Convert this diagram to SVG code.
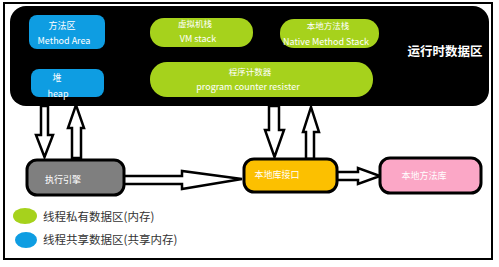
<svg xmlns="http://www.w3.org/2000/svg" width="499" height="267" viewBox="0 0 499 267">
<style>
.t{font-family:"Noto Sans CJK SC","Liberation Sans",sans-serif;fill:#fff;text-anchor:middle}
.s{font-size:8.5px}
.m{font-size:9px}
.node{stroke:#000;stroke-width:3}
.arr{fill:#fff;stroke:#000;stroke-width:2.5;stroke-linejoin:miter}
.leg{font-family:"Noto Sans CJK SC","Liberation Sans",sans-serif;font-size:11.5px;fill:#333}
</style>
<rect x="0" y="0" width="499" height="267" fill="#fff"/>
<rect x="4" y="3" width="488" height="256" fill="none" stroke="#000" stroke-width="2"/>
<g id="runtime">
<rect x="10" y="6" width="479" height="100" rx="16" fill="#000"/>
<text class="t" x="445" y="56" style="font-size:12.5px;font-weight:bold">运行时数据区</text>
</g>
<g id="method-area">
<rect x="29" y="15" width="76" height="34" rx="8" fill="#0e9de2"/>
<text class="t m" x="62" y="29">方法区</text>
<text class="t m" x="64" y="44">Method Area</text>
</g>
<g id="heap">
<rect x="31" y="69" width="73" height="28" rx="8" fill="#0e9de2"/>
<text class="t m" x="57" y="81">堆</text>
<text class="t m" x="58" y="97">heap</text>
</g>
<g id="vm-stack">
<rect x="150" y="18" width="103" height="29" rx="14" fill="#a6d21c"/>
<text class="t s" x="195" y="27">虚拟机栈</text>
<text class="t m" x="198" y="42">VM stack</text>
</g>
<g id="native-stack">
<rect x="280" y="19" width="99" height="29" rx="14" fill="#a6d21c"/>
<text class="t s" x="328" y="29">本地方法栈</text>
<text class="t m" x="326" y="45">Native Method Stack</text>
</g>
<g id="pc">
<rect x="150" y="62" width="223" height="35" rx="17" fill="#a6d21c"/>
<text class="t s" x="250" y="75">程序计数器</text>
<text class="t m" x="248" y="90">program counter resister</text>
</g>
<g id="connectors">
<polygon class="arr" points="41,106 48,106 48,135 53,135 44.5,157 36,135 41,135"/>
<polygon class="arr" points="72,158 81,158 81,128 84,128 76,105 68,128 72,128"/>
<polygon class="arr" points="269,106 279,106 279,130 284,130 274.5,157 265,130 269,130"/>
<polygon class="arr" points="306,159 314,159 314,132 319,132 311,107 303,132 306,132"/>
<polygon class="arr" points="123,176 182,176 182,171 242,179 182,189 182,184 123,184"/>
<polygon class="arr" points="337,172 358,172 358,168 380,176 358,184 358,180 337,180"/>
</g>
<g id="engine">
<rect x="27" y="160" width="97" height="35" rx="10" fill="#7f7f7f" class="node"/>
<text class="t m" x="63" y="183">执行引擎</text>
</g>
<g id="native-interface">
<rect x="244" y="159" width="93" height="33" rx="10" fill="#fcc000" class="node"/>
<text class="t m" x="277" y="178">本地库接口</text>
</g>
<g id="native-lib">
<rect x="380" y="158" width="101" height="35" rx="10" fill="#fba7c6" class="node"/>
<text class="t m" x="424" y="179">本地方法库</text>
</g>
<g id="legend">
<ellipse cx="25" cy="216" rx="12" ry="8" fill="#a6d21c"/>
<text class="leg" x="43" y="221">线程私有数据区(内存)</text>
<ellipse cx="26" cy="240" rx="11" ry="8" fill="#0e9de2"/>
<text class="leg" x="43" y="244">线程共享数据区(共享内存)</text>
</g>
</svg>
